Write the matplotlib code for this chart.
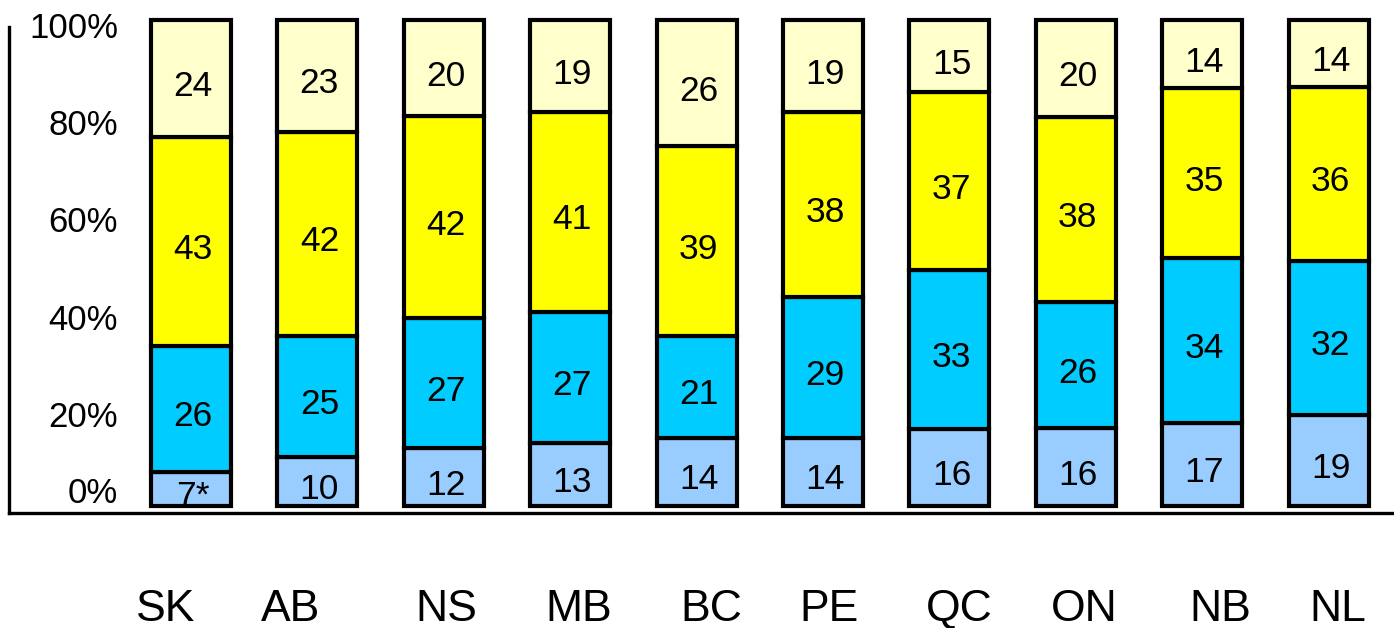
import matplotlib
matplotlib.use("Agg")
import matplotlib.pyplot as plt
import matplotlib.transforms as mtransforms
import numpy as np

plt.rcParams['font.family'] = ['Liberation Sans', 'DejaVu Sans']

provinces = ["SK", "AB", "NS", "MB", "BC", "PE", "QC", "ON", "NB", "NL"]
seg1 = [7, 10, 12, 13, 14, 14, 16, 16, 17, 19]      # light blue (bottom)
seg2 = [26, 25, 27, 27, 21, 29, 33, 26, 34, 32]     # cyan
seg3 = [43, 42, 42, 41, 39, 38, 37, 38, 35, 36]     # yellow
seg4 = [24, 23, 20, 19, 26, 19, 15, 20, 14, 14]     # pale yellow (top)
flagged = [True, False, False, False, False, False, False, False, False, False]
yticks = [0, 20, 40, 60, 80, 100]
ytick_labels = ["0%", "20%", "40%", "60%", "80%", "100%"]

# layout only
label_shift = [-0.198, -0.21, 0.017, 0.07, 0.12, 0.05, 0.08, 0.07, 0.14, 0.07]
colors = ["#99CCFF", "#00CCFF", "#FFFF00", "#FFFFCC"]

fig = plt.figure(figsize=(13.94, 6.28), dpi=100)
ax = fig.add_axes([9 / 1394, (628 - 513) / 628, 1 - 9 / 1394, (513 - 10) / 628])

series = [seg1, seg2, seg3, seg4]
totals = np.sum(np.array(series, dtype=float), axis=0)
x = np.arange(len(provinces))
bottom = np.zeros(len(provinces))
width = 0.633
for si, (vals, col) in enumerate(zip(series, colors)):
    pct = np.array(vals, dtype=float) / totals * 100
    ax.bar(x, pct, width, bottom=bottom, color=col, edgecolor="black",
           linewidth=3.0, clip_on=False, zorder=2)
    for i in range(len(x)):
        txt = str(vals[i]) + ("*" if (si == 0 and flagged[i]) else "")
        off = mtransforms.offset_copy(ax.transData, fig=fig, x=2, y=-8, units="dots")
        ax.text(x[i], bottom[i] + pct[i] / 2, txt, ha="center", va="center",
                fontsize=25.5, transform=off, zorder=3)
    bottom = bottom + pct

ax.set_xlim(-1.44, 9.517)
ax.set_ylim(-1.44, 102.06)

for s in ["top", "right"]:
    ax.spines[s].set_visible(False)
ax.spines["left"].set_linewidth(2.4)
ax.spines["bottom"].set_linewidth(2.4)
ax.spines["left"].set_bounds(-1.44, 98.5)

ax.set_yticks(yticks)
ax.set_yticklabels(ytick_labels, fontsize=25)
ax.tick_params(axis="y", length=0, pad=-78.5)
for lab, t in zip(ax.get_yticklabels(), yticks):
    dy = 16 if t == 0 else -5
    lab.set_transform(lab.get_transform() + mtransforms.ScaledTranslation(0, dy / 100, fig.dpi_scale_trans))

ax.set_xticks(x + np.array(label_shift))
ax.set_xticklabels(provinces, fontsize=32)
ax.tick_params(axis="x", length=0, pad=55)

fig.savefig("out.png", dpi=100)
